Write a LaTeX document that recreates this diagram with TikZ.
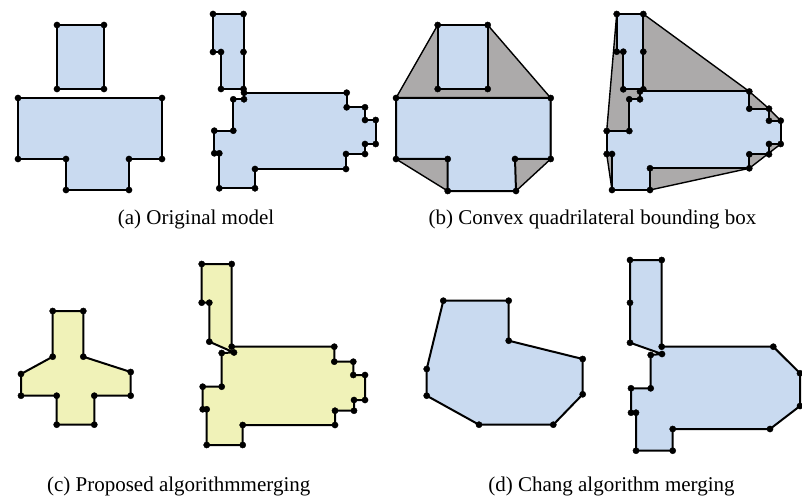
\documentclass[tikz,border=0pt]{standalone}
\usepackage{fontspec}
\setmainfont{Liberation Serif}
\definecolor{lblue}{RGB}{201,218,240}
\definecolor{lyellow}{RGB}{240,242,184}
\definecolor{hullgray}{RGB}{172,170,170}
\tikzset{
  blueshape/.style={fill=lblue,draw=black,line width=2pt,line join=round},
  yellowshape/.style={fill=lyellow,draw=black,line width=2pt,line join=round},
  hullshape/.style={fill=hullgray,draw=black,line width=1.4pt,line join=round},
  captext/.style={font=\fontsize{21}{25}\selectfont,inner sep=0pt,anchor=base}
}
\newcommand{\poly}[2]{%
  \draw[#1] plot coordinates {#2} -- cycle;
  \path plot[only marks,mark=*,mark size=3.1pt,mark options={draw=black,fill=black}] coordinates {#2};}
\begin{document}
\begin{tikzpicture}[x=1pt,y=-1pt]
\useasboundingbox (0,0) rectangle (802,497);
% ---------- (a) ----------
\poly{blueshape}{(57,25) (104,25) (104,89) (57,89)}
\poly{blueshape}{(18,98) (162,98) (162,159) (129,159) (129,190) (66,190) (66,159) (18,159)}
\poly{blueshape}{(213,14) (243.5,14) (243.5,52) (243.5,89) (221,89) (221,52) (213,52)}
\poly{blueshape}{(244,92.7) (346.7,92.7) (346.7,107.3) (365,107.3) (365,120) (375.7,120) (375.7,144) (365,144) (365,154) (346,154) (346,169) (255,169) (255,188.3) (219.3,188.3) (219.3,153.3) (214.3,153.3) (214.3,130.7) (233.3,130.7) (233.3,99.3) (244,99.3)}
% ---------- (b) ----------
\draw[hullshape] plot coordinates {(437.7,25) (487.7,25) (550.7,98) (550.7,159) (516,191) (447.7,191) (396,159) (396,98)} -- cycle;
\poly{blueshape}{(437.7,25) (487.7,25) (487.7,89) (437.7,89)}
\poly{blueshape}{(396,98) (550.7,98) (550.7,159) (515,159) (516,191) (447.7,191) (447.7,159) (396,159)}
\draw[hullshape] plot coordinates {(616.7,14) (643.3,14) (749.3,91.5) (769,108.7) (780.7,120.7) (780.7,144) (749.3,168.3) (650,190) (612,190) (606.7,154) (606.7,131)} -- cycle;
\poly{blueshape}{(616.7,14) (643.3,14) (643.3,51.7) (643.3,89.3) (623.3,89.3) (623.3,51.7) (616.7,51.7)}
\poly{blueshape}{(640,91.5) (749.3,91.5) (749.3,108.7) (769,108.7) (769,120.7) (780.7,120.7) (780.7,144) (769,144) (769,154.3) (749.3,154.3) (749.3,168.3) (650,168.3) (650,190) (612,190) (612,154) (606.7,154) (606.7,131) (629.3,131) (629.3,99.3) (640,99.3)}
% ---------- (c) ----------
\poly{yellowshape}{(52.7,311) (83.3,311) (83.3,356.7) (130.7,372) (130.7,395.7) (94.3,395.7) (94.3,424.7) (56.7,424.7) (56.7,395.7) (21,395.7) (21,374) (52.7,356.7)}
\poly{yellowshape}{(201.7,264) (231.7,264) (231.7,346.7) (334.3,346.7) (334.3,361.7) (353.3,361.7) (353.3,375) (365,375) (365,400) (354,400) (354,410.7) (335,410.7) (335,425) (242.7,425) (242.7,445) (206.7,445) (206.7,409.3) (202.7,409.3) (202.7,386.7) (221.7,386.7) (221.7,353) (234,352.5) (209.3,341.7) (209.3,302.7) (201.7,302.7)}
% ---------- (d) ----------
\poly{blueshape}{(443.3,300.7) (508.7,300.7) (508.7,340.7) (582.7,359) (582.7,394.3) (553.3,424.7) (479,424.7) (426.7,395.7) (426.7,369)}
\poly{blueshape}{(630,260) (661.7,260) (661.7,346.7) (773.3,346.7) (800,373.3) (800,406) (770,429) (672.7,429) (672.7,450.7) (636,450.7) (636,412.7) (631,412.7) (631,388.3) (650.7,388.3) (650.7,355) (662,354) (630,342.7) (630,302.7)}
% ---------- captions ----------
\node[captext] (capa) at (196,224) {(a) Original model};
\node[captext] (capb) at (592.5,224) {(b) Convex quadrilateral bounding box};
\node[captext] (capc) at (178.7,491) {(c) Proposed algorithmmerging};
\node[captext] (capd) at (611.5,491) {(d) Chang algorithm merging};
\end{tikzpicture}
\end{document}
